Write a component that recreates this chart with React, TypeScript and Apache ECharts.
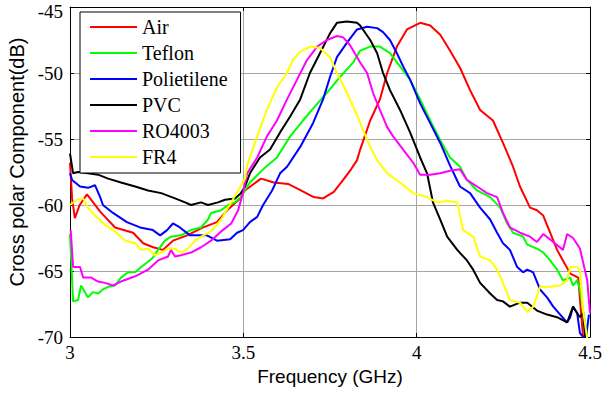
import React, { useEffect, useRef } from "react";
import * as echarts from "echarts";

const seriesNames = ["Air", "Teflon", "Polietilene", "PVC", "RO4003", "FR4"];
const seriesColors = ["#ff0000", "#00ff00", "#0000ff", "#000000", "#ff00ff", "#ffff00"];
const xTicks = [3, 3.5, 4, 4.5];
const yTicks = [-70, -65, -60, -55, -50, -45];

const airData = [
  [3.0, -56.8], [3.006, -59.5], [3.014, -61.0], [3.028, -60.0], [3.049, -59.2], [3.087, -60.5],
  [3.13, -61.7], [3.182, -62.1], [3.211, -62.9], [3.24, -63.2], [3.268, -63.4], [3.297, -62.7],
  [3.338, -62.3], [3.384, -61.7], [3.424, -61.3], [3.453, -60.4], [3.491, -59.5], [3.5, -59.0],
  [3.551, -58.0], [3.588, -58.3], [3.629, -58.4], [3.666, -58.9], [3.703, -59.4], [3.73, -59.5],
  [3.761, -59.0], [3.788, -58.1], [3.808, -57.4], [3.828, -56.6], [3.837, -55.8], [3.866, -53.6],
  [3.894, -52.0], [3.915, -50.0], [3.943, -48.0], [3.972, -46.7], [4.01, -46.2], [4.039, -46.4],
  [4.068, -47.1], [4.096, -48.3], [4.125, -49.6], [4.154, -51.3], [4.183, -52.8], [4.22, -53.6],
  [4.249, -55.3], [4.278, -57.1], [4.298, -58.6], [4.327, -60.2], [4.347, -60.4], [4.365, -60.8],
  [4.385, -62.1], [4.405, -63.4], [4.422, -64.2], [4.443, -65.2], [4.466, -65.5], [4.48, -70.0]
];

const teflonData = [
  [3.0, -62.2], [3.009, -67.3], [3.023, -67.2], [3.032, -66.1], [3.052, -67.0], [3.066, -66.6],
  [3.081, -66.7], [3.095, -66.4], [3.11, -66.2], [3.13, -66.1], [3.147, -65.5], [3.167, -65.1],
  [3.188, -65.1], [3.205, -64.7], [3.225, -64.3], [3.239, -64.0], [3.254, -63.4], [3.274, -62.7],
  [3.291, -62.4], [3.32, -62.3], [3.349, -61.9], [3.378, -61.7], [3.398, -61.1], [3.407, -60.6],
  [3.436, -60.4], [3.456, -60.0], [3.476, -59.8], [3.493, -59.4], [3.519, -58.3], [3.557, -57.3],
  [3.597, -56.4], [3.635, -54.8], [3.672, -53.6], [3.701, -52.7], [3.741, -51.5], [3.779, -50.3],
  [3.817, -49.2], [3.837, -48.3], [3.866, -48.0], [3.894, -48.0], [3.923, -48.5], [3.952, -49.5],
  [3.981, -50.5], [4.01, -52.0], [4.039, -53.6], [4.068, -55.1], [4.096, -56.4], [4.125, -57.1],
  [4.145, -58.1], [4.174, -58.9], [4.212, -59.4], [4.241, -60.2], [4.261, -61.4], [4.278, -62.1],
  [4.307, -62.4], [4.319, -63.0], [4.347, -63.3], [4.365, -63.6], [4.385, -64.2], [4.405, -64.9],
  [4.422, -65.7], [4.443, -65.5], [4.451, -66.1], [4.463, -65.7], [4.471, -66.4], [4.48, -68.0],
  [4.492, -70.0]
];

const polietileneData = [
  [3.0, -57.6], [3.006, -58.1], [3.029, -58.6], [3.052, -58.7], [3.072, -58.5], [3.087, -59.4],
  [3.095, -60.0], [3.124, -60.6], [3.164, -61.3], [3.202, -61.7], [3.239, -61.9], [3.26, -62.3],
  [3.28, -61.9], [3.297, -61.4], [3.317, -61.7], [3.346, -62.3], [3.375, -62.3], [3.395, -62.3],
  [3.424, -62.7], [3.462, -62.6], [3.482, -62.1], [3.499, -61.9], [3.519, -61.3], [3.54, -60.9],
  [3.557, -60.0], [3.583, -58.9], [3.606, -57.6], [3.626, -57.1], [3.664, -55.6], [3.701, -53.8],
  [3.73, -52.0], [3.75, -50.3], [3.77, -48.8], [3.799, -47.7], [3.828, -46.7], [3.857, -46.5],
  [3.886, -46.6], [3.903, -46.9], [3.923, -47.5], [3.943, -48.5], [3.961, -49.5], [3.981, -50.5],
  [4.01, -52.3], [4.039, -53.8], [4.068, -55.3], [4.096, -57.0], [4.125, -58.6], [4.154, -59.1],
  [4.183, -60.2], [4.212, -61.1], [4.232, -62.1], [4.249, -62.9], [4.269, -63.4], [4.29, -64.7],
  [4.307, -65.1], [4.319, -64.9], [4.336, -65.1], [4.356, -66.4], [4.376, -67.0], [4.394, -67.7],
  [4.414, -68.3], [4.434, -68.9], [4.443, -68.5], [4.451, -67.7], [4.463, -68.2], [4.471, -69.7],
  [4.48, -70.0], [4.486, -70.5], [4.497, -68.3]
];

const pvcData = [
  [3.0, -56.1], [3.009, -57.6], [3.023, -57.5], [3.052, -57.6], [3.081, -57.7], [3.11, -58.0],
  [3.147, -58.3], [3.188, -58.6], [3.225, -58.9], [3.263, -59.1], [3.303, -59.5], [3.332, -59.8],
  [3.349, -60.0], [3.378, -59.8], [3.398, -60.0], [3.427, -59.8], [3.447, -59.6], [3.476, -59.5],
  [3.493, -59.1], [3.505, -58.6], [3.519, -57.6], [3.548, -56.4], [3.577, -55.8], [3.606, -54.5],
  [3.635, -53.3], [3.664, -52.0], [3.692, -50.0], [3.721, -48.5], [3.75, -47.0], [3.77, -46.2],
  [3.799, -46.1], [3.828, -46.2], [3.837, -46.4], [3.866, -47.5], [3.886, -48.5], [3.903, -50.0],
  [3.923, -51.3], [3.952, -52.8], [3.981, -54.5], [4.01, -56.4], [4.03, -57.6], [4.047, -59.8],
  [4.068, -61.1], [4.088, -62.4], [4.117, -63.4], [4.145, -64.2], [4.163, -64.9], [4.183, -65.9],
  [4.212, -66.7], [4.232, -67.2], [4.249, -67.3], [4.269, -67.7], [4.298, -67.4], [4.319, -67.4],
  [4.347, -68.0], [4.376, -68.3], [4.405, -68.5], [4.434, -68.9], [4.451, -67.7], [4.471, -68.5],
  [4.48, -68.2], [4.486, -70.0]
];

const ro4003Data = [
  [3.002, -61.9], [3.009, -64.7], [3.029, -64.7], [3.038, -65.5], [3.061, -65.5], [3.081, -65.8],
  [3.101, -65.9], [3.124, -66.1], [3.147, -65.8], [3.188, -65.4], [3.225, -64.9], [3.254, -64.2],
  [3.283, -63.9], [3.291, -63.4], [3.303, -63.9], [3.32, -63.8], [3.349, -63.6], [3.378, -63.2],
  [3.407, -62.7], [3.436, -62.0], [3.465, -61.4], [3.485, -60.4], [3.499, -59.1], [3.511, -57.6],
  [3.54, -56.4], [3.568, -54.8], [3.597, -53.6], [3.626, -52.0], [3.655, -50.5], [3.684, -49.0],
  [3.713, -48.0], [3.741, -47.5], [3.77, -47.2], [3.788, -47.3], [3.808, -47.9], [3.837, -49.2],
  [3.857, -50.0], [3.874, -51.5], [3.894, -52.8], [3.915, -54.1], [3.932, -54.8], [3.961, -55.8],
  [3.99, -56.8], [4.01, -57.7], [4.039, -57.7], [4.068, -57.6], [4.096, -57.4], [4.125, -57.3],
  [4.145, -58.1], [4.174, -58.6], [4.203, -59.1], [4.232, -59.4], [4.249, -60.6], [4.269, -61.7],
  [4.298, -62.1], [4.327, -62.4], [4.347, -62.8], [4.365, -62.2], [4.394, -62.8], [4.422, -63.4],
  [4.434, -62.2], [4.451, -62.5], [4.471, -63.3], [4.492, -65.7], [4.5, -68.2]
];

const fr4Data = [
  [3.0, -60.0], [3.02, -59.6], [3.038, -59.5], [3.052, -60.2], [3.072, -60.8], [3.101, -61.5],
  [3.13, -62.0], [3.159, -62.7], [3.188, -62.9], [3.205, -63.4], [3.225, -63.3], [3.245, -63.8],
  [3.263, -63.6], [3.283, -63.3], [3.303, -63.3], [3.32, -63.6], [3.34, -63.3], [3.361, -62.7],
  [3.378, -62.4], [3.407, -62.0], [3.436, -61.1], [3.465, -59.8], [3.485, -58.9], [3.505, -58.0],
  [3.511, -57.0], [3.54, -54.8], [3.568, -52.8], [3.597, -51.1], [3.626, -50.0], [3.643, -49.0],
  [3.664, -48.4], [3.692, -48.0], [3.721, -48.1], [3.75, -48.8], [3.77, -50.0], [3.799, -51.5],
  [3.828, -53.2], [3.845, -54.3], [3.866, -55.6], [3.886, -56.6], [3.915, -57.6], [3.952, -58.3],
  [3.99, -59.1], [4.03, -59.4], [4.059, -59.8], [4.088, -59.7], [4.117, -59.8], [4.134, -61.9],
  [4.163, -62.4], [4.183, -63.9], [4.212, -64.2], [4.232, -64.9], [4.249, -65.9], [4.269, -67.2],
  [4.298, -67.4], [4.319, -68.1], [4.336, -67.7], [4.356, -66.2], [4.385, -66.2], [4.414, -66.1],
  [4.434, -65.7], [4.443, -64.7], [4.463, -64.7], [4.471, -64.9], [4.48, -68.0], [4.492, -70.1]
];

const allData = [airData, teflonData, polietileneData, pvcData, ro4003Data, fr4Data];

export default function App() {
  const ref = useRef<HTMLDivElement>(null);
  useEffect(() => {
    if (!ref.current) return;
    const chart = echarts.init(ref.current, undefined, { renderer: "svg" });
    const serif = "'Liberation Serif', 'Times New Roman', serif";
    const sans = "'Liberation Sans', Arial, sans-serif";
    const axisCommon = {
      axisLine: { show: true, onZero: false, lineStyle: { color: "#000", width: 1 } },
      axisTick: { show: true, inside: true, length: 4, lineStyle: { color: "#000", width: 1 } },
    };
    const yTop = yTicks[yTicks.length - 1];
    const option: any = {
      animation: false,
      backgroundColor: "#ffffff",
      grid: { left: 70, right: 14, top: 7, bottom: 60, outerBoundsMode: "none", containLabel: false },
      legend: {
        data: seriesNames,
        orient: "vertical",
        left: 80,
        top: 12,
        backgroundColor: "#ffffff",
        borderColor: "#000000",
        borderWidth: 1,
        borderRadius: 0,
        padding: [5, 13, 6, 10],
        itemWidth: 47,
        itemHeight: 2,
        itemGap: 6,
        icon: "rect",
        z: 10,
        textStyle: { fontFamily: serif, fontSize: 20, color: "#000", lineHeight: 20 },
      },
      xAxis: [
        {
          type: "value",
          min: xTicks[0],
          max: xTicks[xTicks.length - 1],
          interval: 0.5,
          name: "Frequency (GHz)",
          nameLocation: "middle",
          nameGap: 29,
          nameTextStyle: { fontFamily: sans, fontSize: 19, color: "#000" },
          ...axisCommon,
          axisLabel: { fontFamily: serif, fontSize: 19, color: "#000", margin: 6 },
          splitLine: { show: true, lineStyle: { color: "#a6a6a6", width: 1 } },
        },
        {
          type: "value",
          position: "top",
          min: xTicks[0],
          max: xTicks[xTicks.length - 1],
          interval: 0.5,
          ...axisCommon,
          axisLabel: { show: false },
          splitLine: { show: false },
        },
      ],
      yAxis: [
        {
          type: "value",
          min: yTicks[0],
          max: yTop,
          interval: 5,
          name: "Cross polar Component(dB)",
          nameLocation: "middle",
          nameGap: 42,
          nameTextStyle: { fontFamily: sans, fontSize: 20, color: "#000", padding: [0, 0, 0, 20] },
          ...axisCommon,
          axisLabel: {
            fontFamily: serif,
            fontSize: 19,
            color: "#000",
            margin: 7,
            formatter: (v: number) => (v === yTop ? `{top|${v}}` : `${v}`),
            rich: {
              top: { fontFamily: serif, fontSize: 19, color: "#000", padding: [9, 0, 0, 0] },
            },
          },
          splitLine: { show: true, lineStyle: { color: "#a6a6a6", width: 1 } },
        },
        {
          type: "value",
          position: "right",
          min: yTicks[0],
          max: yTop,
          interval: 5,
          ...axisCommon,
          axisLabel: { show: false },
          splitLine: { show: false },
        },
      ],
      series: seriesNames.map((name, i) => ({
        name,
        type: "line",
        data: allData[i],
        color: seriesColors[i],
        showSymbol: false,
        symbol: "none",
        clip: true,
        lineStyle: { width: 2, color: seriesColors[i] },
        itemStyle: { color: seriesColors[i] },
        xAxisIndex: 0,
        yAxisIndex: 0,
      })),
    };
    chart.setOption(option);
    return () => chart.dispose();
  }, []);
  return (
    <div
      ref={ref}
      style={{ position: "fixed", left: 0, top: 0, width: 604, height: 397, background: "#fff" }}
    />
  );
}
